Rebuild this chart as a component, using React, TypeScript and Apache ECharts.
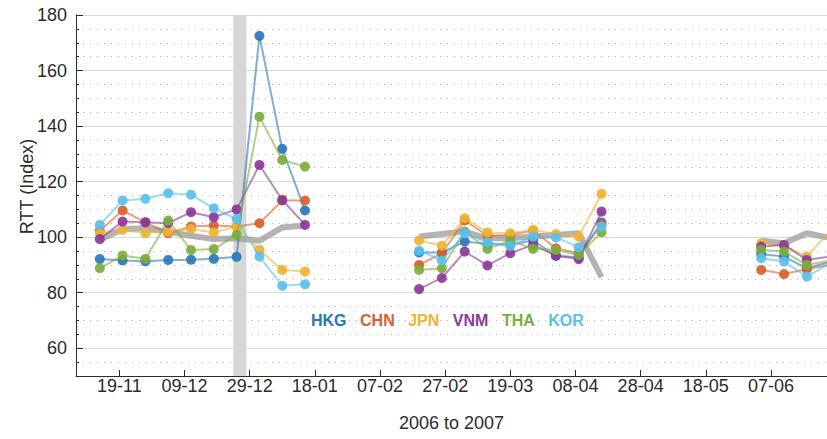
import React, { useEffect, useRef } from "react";
import * as echarts from "echarts";

// Weekly sampling dates (Mondays); gaps longer than a week break the lines
const dates = [
  "2006-11-13", "2006-11-20", "2006-11-27", "2006-12-04", "2006-12-11",
  "2006-12-18", "2006-12-25", "2007-01-01", "2007-01-08", "2007-01-15",
  "2007-02-19", "2007-02-26", "2007-03-05", "2007-03-12", "2007-03-19",
  "2007-03-26", "2007-04-02", "2007-04-09", "2007-04-16",
  "2007-06-04", "2007-06-11", "2007-06-18", "2007-06-25",
];

const hkg = [
  92.1, 91.6, 91.3, 91.8, 91.9, 92.2, 92.9, 172.5, 131.8, 109.6,
  94.5, 94.5, 98.4, 97.5, 97.3, 98.8, 93.3, 92.8, 105.3,
  93.9, 93.0, 88.8, 91.0,
];
const chn = [
  102.3, 109.6, 105.3, 101.4, 103.8, 104.2, 103.8, 105.0, 113.2, 113.2,
  90.0, 94.2, 106.0, 100.5, 100.8, 102.4, 96.0, 94.2, 104.5,
  88.2, 86.7, 88.5, 90.0,
];
const jpn = [
  101.4, 102.6, 101.4, 102.0, 102.9, 101.7, 103.8, 95.4, 88.2, 87.6,
  98.8, 96.9, 106.8, 101.7, 101.4, 102.6, 101.1, 100.2, 115.6,
  97.8, 97.0, 93.0, 102.0,
];
const vnm = [
  99.3, 105.6, 105.4, 105.0, 109.0, 107.2, 110.0, 126.0, 113.4, 104.4,
  81.3, 85.3, 94.8, 89.8, 94.2, 97.2, 93.3, 92.1, 109.2,
  96.6, 97.2, 91.8, 93.0,
];
const tha = [
  88.8, 93.4, 92.2, 106.0, 95.4, 95.7, 100.8, 143.4, 127.8, 125.4,
  88.2, 88.8, 102.0, 95.8, 98.8, 95.8, 95.4, 93.6, 101.8,
  95.4, 94.8, 90.0, 91.5,
];
const kor = [
  104.4, 113.2, 113.8, 115.8, 115.3, 110.4, 106.5, 93.0, 82.5, 83.0,
  95.1, 91.6, 101.4, 98.1, 96.9, 100.2, 99.9, 96.4, 103.8,
  92.4, 91.2, 85.8, 90.5,
];
const average = [
  99.0, 102.9, 103.2, 102.0, 100.5, 99.3, 99.6, 98.7, 103.5, 104.2,
  100.2, 101.1, 102.0, 99.6, 99.6, 100.2, 100.8, 101.4, 85.6,
  98.7, 97.8, 101.4, 99.8,
];

const countries = ["HKG", "CHN", "JPN", "VNM", "THA", "KOR"];
const countryValues = [hkg, chn, jpn, vnm, tha, kor];
const countryColors = ["#2a78b8", "#d9602a", "#efb432", "#8a3b98", "#7aae3c", "#59c0ec"];

// Date tick labels every 20 days
const tickDates = [
  "2006-11-19", "2006-12-09", "2006-12-29", "2007-01-18", "2007-02-07",
  "2007-02-27", "2007-03-19", "2007-04-08", "2007-04-28", "2007-05-18",
  "2007-06-07",
];

// Shaded outage window (cable break, late December 2006)
const outageStart = "2006-12-24";
const outageEnd = "2006-12-28";

const DAY0 = Date.UTC(2006, 10, 19);
const MS_DAY = 86400000;
const toDay = (s: string) => (Date.parse(s + "T00:00:00Z") - DAY0) / MS_DAY;
const fmtDay = (v: number) => {
  const d = new Date(DAY0 + Math.round(v) * MS_DAY);
  const dd = String(d.getUTCDate()).padStart(2, "0");
  const mm = String(d.getUTCMonth() + 1).padStart(2, "0");
  return `${dd}-${mm}`;
};

const X_MIN = -13.3;
const X_MAX = 217.2;

function buildSeriesData(values: number[]) {
  const out: (number | null)[][] = [];
  for (let i = 0; i < dates.length; i++) {
    const day = toDay(dates[i]);
    if (i > 0) {
      const prev = toDay(dates[i - 1]);
      if (day - prev > 7) out.push([(day + prev) / 2, null]);
    }
    out.push([day, values[i]]);
  }
  return out;
}

const FONT = "'Liberation Sans', Arial, Helvetica, sans-serif";
const INK = "#2b2b2b";

export default function App() {
  const ref = useRef<HTMLDivElement>(null);

  useEffect(() => {
    if (!ref.current) return;
    const chart = echarts.init(ref.current, null, { renderer: "svg" });
    const tickDays = tickDates.map(toDay);

    const countrySeries = countries.map((name, i) => ({
      name,
      type: "line",
      data: buildSeriesData(countryValues[i]),
      symbol: "circle",
      symbolSize: 10,
      showSymbol: true,
      connectNulls: false,
      z: 3 + i,
      itemStyle: { color: countryColors[i], opacity: 0.92 },
      lineStyle: { color: countryColors[i], width: 2, opacity: 0.6 },
      emphasis: { disabled: true },
    }));

    chart.setOption({
      animation: false,
      backgroundColor: "#ffffff",
      textStyle: { fontFamily: FONT },
      grid: { left: 76, right: 0, top: 15, bottom: 63, containLabel: false },
      legend: {
        data: countries.map((name, i) => ({
          name,
          textStyle: { color: countryColors[i] },
        })),
        left: 301,
        top: 307,
        icon: "rect",
        itemWidth: 0,
        itemHeight: 0,
        itemGap: 8.5,
        itemStyle: { opacity: 0 },
        lineStyle: { opacity: 0 },
        selectedMode: false,
        textStyle: { fontSize: 16, fontWeight: "bold", fontFamily: FONT },
      },
      xAxis: {
        type: "value",
        min: X_MIN,
        max: X_MAX,
        name: "2006 to 2007",
        nameLocation: "middle",
        nameGap: 38,
        nameMoveOverlap: false,
        nameTextStyle: { fontSize: 18, color: INK },
        axisLine: { show: true, onZero: false, lineStyle: { color: INK, width: 1 } },
        axisTick: { show: true, inside: true, length: 6, customValues: tickDays, lineStyle: { color: INK } },
        axisLabel: {
          customValues: tickDays,
          formatter: (v: number) => fmtDay(v),
          fontSize: 18,
          color: INK,
          margin: 1,
        },
        splitLine: { show: false },
      },
      yAxis: {
        type: "value",
        min: 50,
        max: 180,
        splitNumber: 6,
        minInterval: 20,
        maxInterval: 20,
        name: "RTT (Index)",
        nameLocation: "middle",
        nameGap: 40,
        nameMoveOverlap: false,
        nameTextStyle: { fontSize: 18, color: INK, padding: [0, 0, 0, 18] },
        axisLine: { show: true, onZero: false, lineStyle: { color: INK, width: 1 } },
        axisTick: { show: true, inside: true, length: 7, lineStyle: { color: INK } },
        minorTick: { show: true, splitNumber: 4, length: 3, lineStyle: { color: INK } },
        axisLabel: { showMinLabel: false, fontSize: 18, color: INK, margin: 9 },
        splitLine: { show: true, lineStyle: { color: "#d9d9d9", width: 1 } },
        minorSplitLine: { show: true, lineStyle: { color: "#b3b3b3", width: 1, type: [1, 6] } },
      },
      series: [
        {
          name: "Outage",
          type: "line",
          data: [],
          z: 1,
          silent: true,
          markArea: {
            silent: true,
            itemStyle: { color: "#d6d6d6", opacity: 1 },
            data: [[{ xAxis: toDay(outageStart) }, { xAxis: toDay(outageEnd) }]],
          },
        },
        {
          name: "Average",
          type: "line",
          data: buildSeriesData(average),
          symbol: "none",
          connectNulls: false,
          z: 2,
          lineStyle: { color: "#9a9a9a", width: 6, opacity: 0.75 },
          emphasis: { disabled: true },
        },
        ...countrySeries,
      ],
    });

    return () => chart.dispose();
  }, []);

  return (
    <div
      ref={ref}
      style={{ position: "absolute", left: 0, top: 0, width: 827, height: 439, background: "#fff" }}
    />
  );
}
